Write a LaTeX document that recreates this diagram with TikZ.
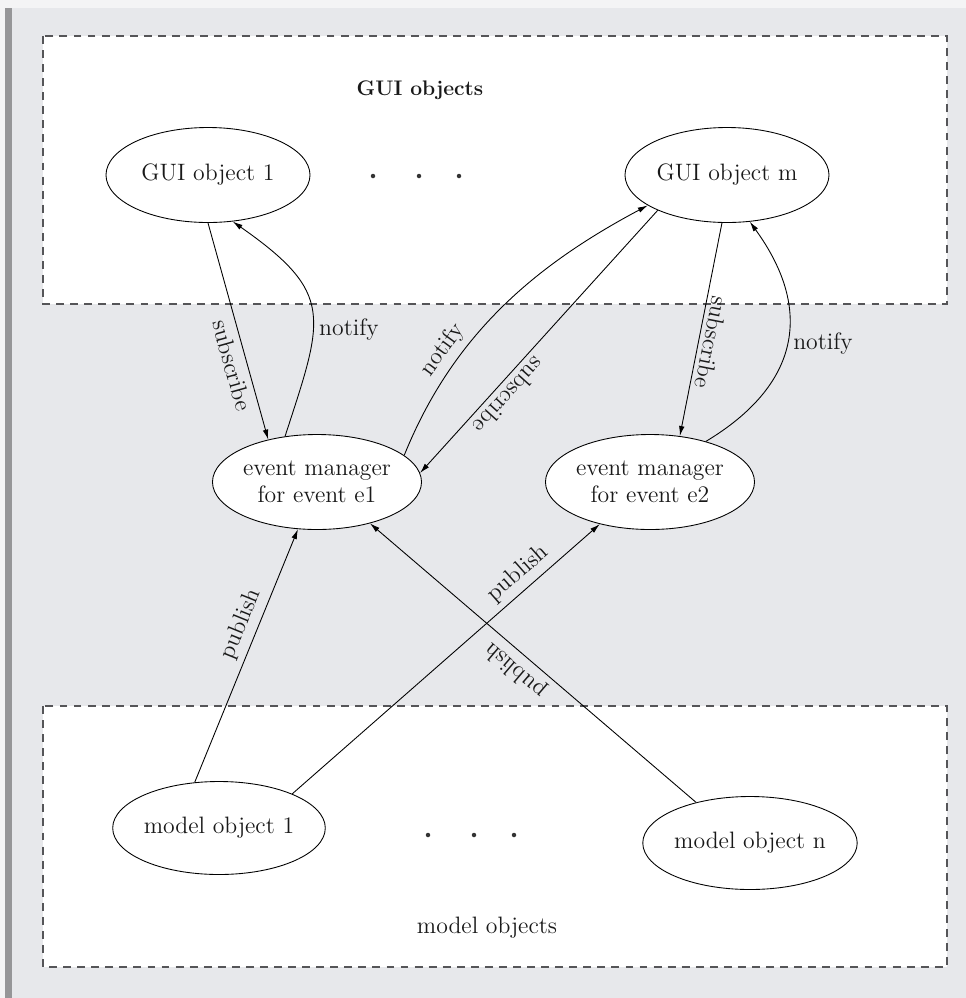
\documentclass[tikz,border=0pt]{standalone}
\usepackage{tikz}
\usetikzlibrary{arrows.meta,positioning,shapes.geometric}
\usepackage{xcolor}
\definecolor{pagegray}{RGB}{231,232,235}
\definecolor{stripgray}{RGB}{244,244,245}
\definecolor{bargray}{RGB}{150,150,152}
\definecolor{dashgray}{RGB}{85,85,88}

\begin{document}
\begin{tikzpicture}[
  >={Latex[length=2mm,width=1.1mm]},
  every node/.style={font=\fontsize{13.5}{15.5}\selectfont,text=black!90},
  obj/.style={ellipse,draw,fill=white,line width=0.5pt,minimum width=4.08cm,minimum height=1.9cm,inner sep=0pt,align=center},
  area/.style={draw=dashgray,fill=white,line width=0.6pt,dash pattern=on 4.5pt off 3.5pt},
  lbl/.style={sloped,allow upside down},
  link/.style={->,line width=0.5pt}]
  \useasboundingbox (0,0) rectangle (19.32,-19.96);
  % page and frame
  \fill[pagegray] (0,0) rectangle (19.32,-19.96);
  \fill[stripgray] (0,0) rectangle (19.32,-0.16);
  \fill[stripgray] (0,-0.16) rectangle (0.1,-19.96);
  \fill[bargray] (0.1,-0.16) rectangle (0.24,-19.96);
  % the two groups
  \draw[area] (0.86,-0.72) rectangle (18.94,-6.08);
  \draw[area] (0.86,-14.12) rectangle (18.94,-19.34);
  \node[font=\fontsize{12}{14}\selectfont\bfseries] (guilbl) at (8.4,-1.8) {GUI objects};
  \node (modlbl) at (9.74,-18.56) {model objects};
  % objects
  \node[obj] (gui1) at (4.16,-3.5) {GUI object 1};
  \node[obj] (guim) at (14.54,-3.5) {GUI object m};
  \node[obj] (em1) at (6.34,-9.64) {event manager\\for event e1};
  \node[obj] (em2) at (13.0,-9.64) {event manager\\for event e2};
  \node[obj,minimum height=1.86cm] (mod1) at (4.38,-16.56) {model object 1};
  \node[obj,minimum height=1.86cm] (modn) at (15.0,-16.86) {model object n};
  \foreach \x in {7.46,8.38,9.18} \fill[black!80] (\x,-3.52) circle (0.045);
  \foreach \x in {8.56,9.48,10.28} \fill[black!80] (\x,-16.7) circle (0.045);
  % subscribe / notify
  \draw[link] (gui1.south) -- node[lbl,pos=0.64,below] {subscribe} (em1.139);
  \draw[link] (em1.125) to[out=72,in=-35,looseness=1.45] node[pos=0.4,right] {notify} (gui1.-62);
  \draw[link] (em1.17) to[out=68,in=-152,looseness=0.95] node[lbl,pos=0.3,above] {notify} (guim.-159);
  \draw[link] (guim.-153) -- node[lbl,pos=0.67,above] {subscribe} (em1.5);
  \draw[link] (guim.-96) -- node[lbl,pos=0.55,above,inner sep=2.5pt] {subscribe} (em2.57);
  \draw[link] (em2.36) to[out=31,in=-54,looseness=1.25] node[pos=0.5,right] {notify} (guim.-64);
  % publish
  \draw[link] (mod1.118) -- node[lbl,pos=0.6,above] {publish} (em1.-112);
  \draw[link] (mod1.25) -- node[lbl,pos=0.77,above] {publish} (em2.-140);
  \draw[link] (modn.143) -- node[lbl,pos=0.52,above] {publish} (em1.-38);
\end{tikzpicture}
\end{document}
